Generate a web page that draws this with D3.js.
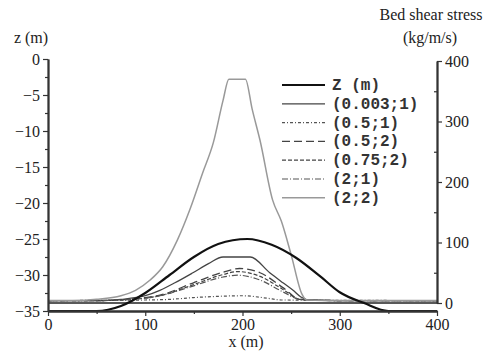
<!DOCTYPE html>
<html>
<head>
<meta charset="utf-8">
<script src="https://cdn.jsdelivr.net/npm/d3@7"></script>
<style>
  body { margin: 0; background: #fff; }
  svg { display: block; }
  .axis path, .axis line { stroke: #333; }
</style>
</head>
<body>
<div id="chart"></div>
<script>
// bed profile z (m), left axis
const zX = [0, 25, 50, 75, 100, 125, 150, 175, 205, 230, 255, 280, 300, 325, 350, 375, 400];
const zVal = [-35, -35, -35, -34.3, -32.5, -30.0, -27.5, -25.7, -25, -25.8, -27.6, -30.2, -32.4, -33.9, -35, -35, -35];

// bed shear stress (kg/m/s), right axis
const s0003_1x = [0, 50, 75, 100, 115, 130, 149, 165, 180, 208, 228, 242, 252, 260, 270, 300, 400];
const s0003_1 = [4, 4, 6, 12, 21, 33, 50, 65, 76, 76, 50, 33, 21, 10, 5, 4, 4];

const s05_1x = [0, 100, 125, 150, 175, 200, 225, 240, 400];
const s05_1 = [4, 5, 6, 9, 11, 12, 8, 5, 4];

const s05_2x = [0, 50, 100, 115, 149, 180, 197, 218, 242, 259, 300, 400];
const s05_2 = [4, 4, 9, 13, 33, 51, 57, 50, 25, 6, 4, 4];

const s075_2x = [0, 50, 100, 115, 149, 180, 195, 218, 242, 259, 300, 400];
const s075_2 = [4, 4, 8, 12, 30, 47, 52, 44, 22, 6, 4, 4];

const s2_1x = [0, 50, 100, 115, 149, 180, 195, 218, 242, 259, 300, 400];
const s2_1 = [4, 4, 8, 12, 28, 43, 46, 38, 18, 6, 4, 4];

const s2_2x = [0, 25, 50, 75, 90, 105, 118, 133, 146, 159, 170, 180, 186, 203, 210, 218, 231, 240, 250, 261, 266, 300, 400];
const s2_2 = [4, 4, 6, 12, 21, 38, 60, 104, 155, 215, 265, 335, 370, 370, 320, 269, 170, 135, 80, 15, 5, 4, 4];

const legendLabels = ["Z (m)", "(0.003;1)", "(0.5;1)", "(0.5;2)", "(0.75;2)", "(2;1)", "(2;2)"];

const W = 489, H = 354;
const margin = { top: 59, right: 52, bottom: 43, left: 48 };
const serif = "'Liberation Serif', 'DejaVu Serif', serif";
const mono = "'Liberation Mono', 'DejaVu Sans Mono', monospace";

const svg = d3.select("#chart").append("svg").attr("width", W).attr("height", H);

const x = d3.scaleLinear().domain([0, 400]).range([margin.left, W - margin.right]);
const yL = d3.scaleLinear().domain([-35, 0]).range([H - margin.bottom, margin.top]);
const yR = d3.scaleLinear().domain([0, 400]).range([303, 61]);

// zero reference line of the shear stress axis
svg.append("line")
  .attr("x1", x(0)).attr("x2", x(400))
  .attr("y1", yR(0)).attr("y2", yR(0))
  .attr("stroke", "#222").attr("stroke-width", 1.3);

const shear = [
  { xs: s0003_1x, ys: s0003_1, color: "#444", width: 1.3, dash: null },
  { xs: s05_1x, ys: s05_1, color: "#555", width: 1.2, dash: "3,2,1,2" },
  { xs: s05_2x, ys: s05_2, color: "#444", width: 1.3, dash: "8,4" },
  { xs: s075_2x, ys: s075_2, color: "#444", width: 1.2, dash: "4,2" },
  { xs: s2_1x, ys: s2_1, color: "#555", width: 1.2, dash: "6,2,1,2" },
  { xs: s2_2x, ys: s2_2, color: "#999", width: 1.5, dash: null }
];

const lineR = d3.line().curve(d3.curveMonotoneX);
shear.forEach(s => {
  svg.append("path")
    .attr("d", lineR(s.xs.map((v, i) => [x(v), yR(s.ys[i])])))
    .attr("fill", "none")
    .attr("stroke", s.color)
    .attr("stroke-width", s.width)
    .attr("stroke-dasharray", s.dash);
});

// bed profile
svg.append("path")
  .attr("d", d3.line().curve(d3.curveMonotoneX)(zX.map((v, i) => [x(v), yL(zVal[i])])))
  .attr("fill", "none")
  .attr("stroke", "#111")
  .attr("stroke-width", 2.2);

// axes
const fmt = d3.format("d");
svg.append("g").attr("class", "axis")
  .attr("transform", `translate(0,${H - margin.bottom})`)
  .call(d3.axisBottom(x).tickValues([0, 100, 200, 300, 400]).tickSize(5).tickSizeOuter(0).tickFormat(fmt));
svg.append("g").attr("class", "axis minor")
  .attr("transform", `translate(0,${H - margin.bottom})`)
  .call(d3.axisBottom(x).tickValues([50, 150, 250, 350]).tickSize(3).tickSizeOuter(0).tickFormat(""));

svg.append("g").attr("class", "axis")
  .attr("transform", `translate(${margin.left},0)`)
  .call(d3.axisLeft(yL).tickValues(d3.range(-35, 1, 5)).tickSize(5).tickSizeOuter(0).tickFormat(fmt));
svg.append("g").attr("class", "axis minor")
  .attr("transform", `translate(${margin.left},0)`)
  .call(d3.axisLeft(yL).tickValues(d3.range(-32.5, 0, 5)).tickSize(3).tickSizeOuter(0).tickFormat(""));

svg.append("g").attr("class", "axis")
  .attr("transform", `translate(${W - margin.right},0)`)
  .call(d3.axisRight(yR).tickValues([0, 100, 200, 300, 400]).tickSize(5).tickSizeOuter(0).tickFormat(fmt));
svg.append("g").attr("class", "axis minor")
  .attr("transform", `translate(${W - margin.right},0)`)
  .call(d3.axisRight(yR).tickValues([50, 150, 250, 350]).tickSize(-3).tickSizeOuter(0).tickFormat(""));

svg.selectAll(".axis .domain").attr("stroke-width", 1.8);
svg.selectAll(".axis line").attr("stroke-width", 1.2);
svg.selectAll(".axis text")
  .style("font-family", serif)
  .style("font-size", "16px")
  .attr("fill", "#222");

// axis titles
const title = (tx, ty, t) => svg.append("text")
  .attr("x", tx).attr("y", ty).attr("text-anchor", "middle")
  .style("font-family", serif).style("font-size", "16px").attr("fill", "#222")
  .text(t);
title(31, 43, "z (m)");
title(431, 20, "Bed shear stress");
title(430, 43, "(kg/m/s)");
title(246, 347, "x (m)");

// legend
const legStyles = [
  { color: "#111", width: 2.2, dash: null },
  ...shear.map(s => ({ color: s.color, width: s.width, dash: s.dash }))
];
const leg = svg.append("g").attr("transform", "translate(282,85)");
legendLabels.forEach((t, i) => {
  const yy = i * 18.8;
  leg.append("line")
    .attr("x1", 0).attr("x2", 43).attr("y1", yy).attr("y2", yy)
    .attr("stroke", legStyles[i].color)
    .attr("stroke-width", legStyles[i].width)
    .attr("stroke-dasharray", legStyles[i].dash);
  leg.append("text")
    .attr("x", 50).attr("y", yy + 5)
    .style("font-family", mono).style("font-size", "16px").style("font-weight", "bold")
    .attr("fill", "#333")
    .text(t);
});
</script>
</body>
</html>
